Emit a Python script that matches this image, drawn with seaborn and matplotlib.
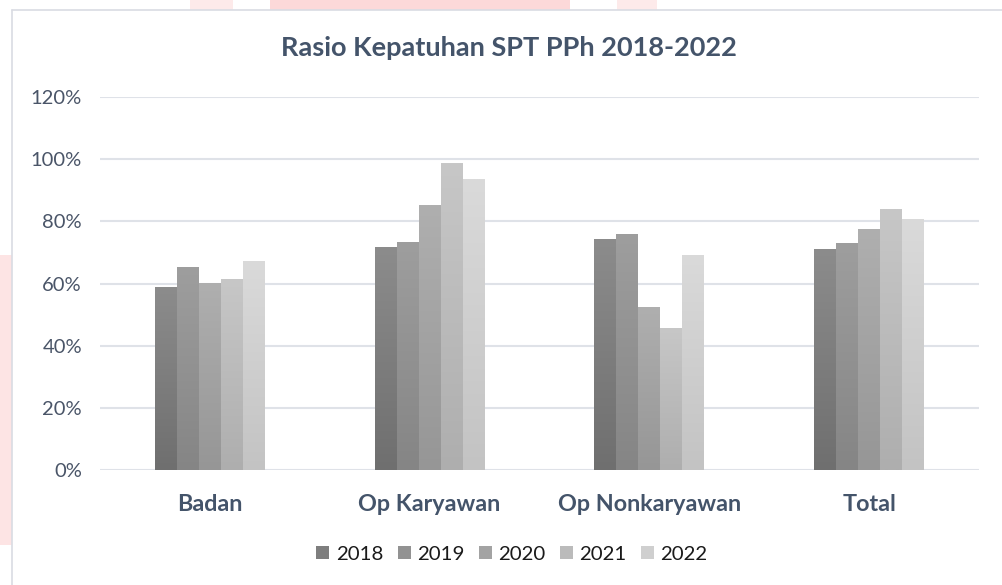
import numpy as np
import pandas as pd
import matplotlib
matplotlib.use("Agg")
import matplotlib.pyplot as plt
import seaborn as sns
from matplotlib.patches import Patch, Rectangle
from matplotlib.colors import to_rgb
from matplotlib.ticker import FuncFormatter

# ---- data ----
categories = ["Badan", "Op Karyawan", "Op Nonkaryawan", "Total"]
years = ["2018", "2019", "2020", "2021", "2022"]
v2018 = [58.8, 71.7, 74.3, 71.1]
v2019 = [65.3, 73.3, 75.9, 73.0]
v2020 = [60.1, 85.2, 52.4, 77.5]
v2021 = [61.4, 98.7, 45.7, 83.9]
v2022 = [67.2, 93.6, 69.1, 80.7]
yticks = [0, 20, 40, 60, 80, 100, 120]
title = "Rasio Kepatuhan SPT PPh 2018-2022"

series = {"2018": v2018, "2019": v2019, "2020": v2020, "2021": v2021, "2022": v2022}
rows = []
for y in years:
    for c, v in zip(categories, series[y]):
        rows.append({"cat": c, "year": y, "val": v})
df = pd.DataFrame(rows)

# gradient colours (top, bottom)
top_cols = ["#8c8c8c", "#9e9e9e", "#afafaf", "#c7c7c7", "#dadada"]
bot_cols = ["#6f6f6f", "#858585", "#969696", "#aeaeae", "#c3c3c3"]
mid_cols = [tuple((np.array(to_rgb(t)) + np.array(to_rgb(b))) / 2) for t, b in zip(top_cols, bot_cols)]

sns.set_theme(style="white")
plt.rcParams["font.family"] = ["Lato", "DejaVu Sans"]

W, H = 1003, 585
fig = plt.figure(figsize=(W / 100, H / 100), dpi=100)
fig.patch.set_facecolor("white")

# watermark-ish pink bits outside chart frame
for (x0, y0, x1, y1, col) in [(270, 0, 570, 10, "#fcd9d9"), (190, 0, 233, 10, "#fdeaea"),
                              (617, 0, 657, 10, "#fdeaea"), (0, 255, 12, 545, "#fde4e4")]:
    fig.patches.append(Rectangle((x0 / W, 1 - y1 / H), (x1 - x0) / W, (y1 - y0) / H,
                                 transform=fig.transFigure, facecolor=col, edgecolor="none", zorder=0))
# chart frame (top and left edges visible)
fig.add_artist(plt.Line2D([12 / W, 1002 / W], [1 - 10 / H, 1 - 10 / H], transform=fig.transFigure,
                          color="#d9dce3", lw=1.2))
fig.add_artist(plt.Line2D([12 / W, 12 / W], [0, 1 - 10 / H], transform=fig.transFigure,
                          color="#d9dce3", lw=1.2))

ax = fig.add_axes([100 / W, 1 - 470 / H, (979 - 100) / W, (470 - 97) / H])
ax.set_facecolor("none")

sns.barplot(data=df, x="cat", y="val", hue="year", hue_order=years, order=categories,
            palette=mid_cols, width=0.5, saturation=1, ax=ax, legend=False, errorbar=None)

# apply vertical gradients to bars
for i, cont in enumerate(ax.containers):
    tc = np.array(to_rgb(top_cols[i]))
    bc = np.array(to_rgb(bot_cols[i]))
    grad = np.linspace(0, 1, 256)[:, None]
    img = (bc[None, None, :] * (1 - grad[..., None]) + tc[None, None, :] * grad[..., None])
    img = np.repeat(img, 2, axis=1)
    for bar in cont:
        x0 = bar.get_x()
        w = bar.get_width()
        h = bar.get_height()
        bar.set_edgecolor("none")
        im = ax.imshow(img, extent=[x0, x0 + w, 0, h], origin="lower", aspect="auto", zorder=3)
        im.set_clip_path(bar)
        bar.set_zorder(2)

ax.set_xlim(-0.5, 3.5)
ax.set_ylim(0, 120)
ax.set_yticks(yticks)
ax.yaxis.set_major_formatter(FuncFormatter(lambda v, p: f"{int(v)}%"))
ax.grid(axis="y", color="#dfe2e8", lw=1.5, zorder=0)
ax.set_axisbelow(True)
for s in ax.spines.values():
    s.set_visible(False)
ax.tick_params(axis="both", length=0)
ax.tick_params(axis="y", labelsize=14.5, labelcolor="#4a5568", pad=13)
ax.tick_params(axis="x", labelsize=16.8, labelcolor="#44546a", pad=17)
for lab in ax.get_xticklabels():
    lab.set_fontweight("bold")
ax.set_xlabel("")
ax.set_ylabel("")

fig.text(509 / W, 1 - 48 / H, title, ha="center", va="center", fontsize=19.5,
         fontweight="bold", color="#44546a")

handles = [Patch(facecolor=c, edgecolor="none", label=y) for c, y in zip(mid_cols, years)]
leg = fig.legend(handles=handles, loc="center", bbox_to_anchor=(512 / W, 1 - 554 / H), ncol=5,
                 frameon=False, fontsize=14.7, handlelength=0.64, handleheight=0.64,
                 handletextpad=0.3, columnspacing=0.72)
for t in leg.get_texts():
    t.set_color("#1a1a1a")

fig.savefig("out.png", dpi=100, facecolor="white")
